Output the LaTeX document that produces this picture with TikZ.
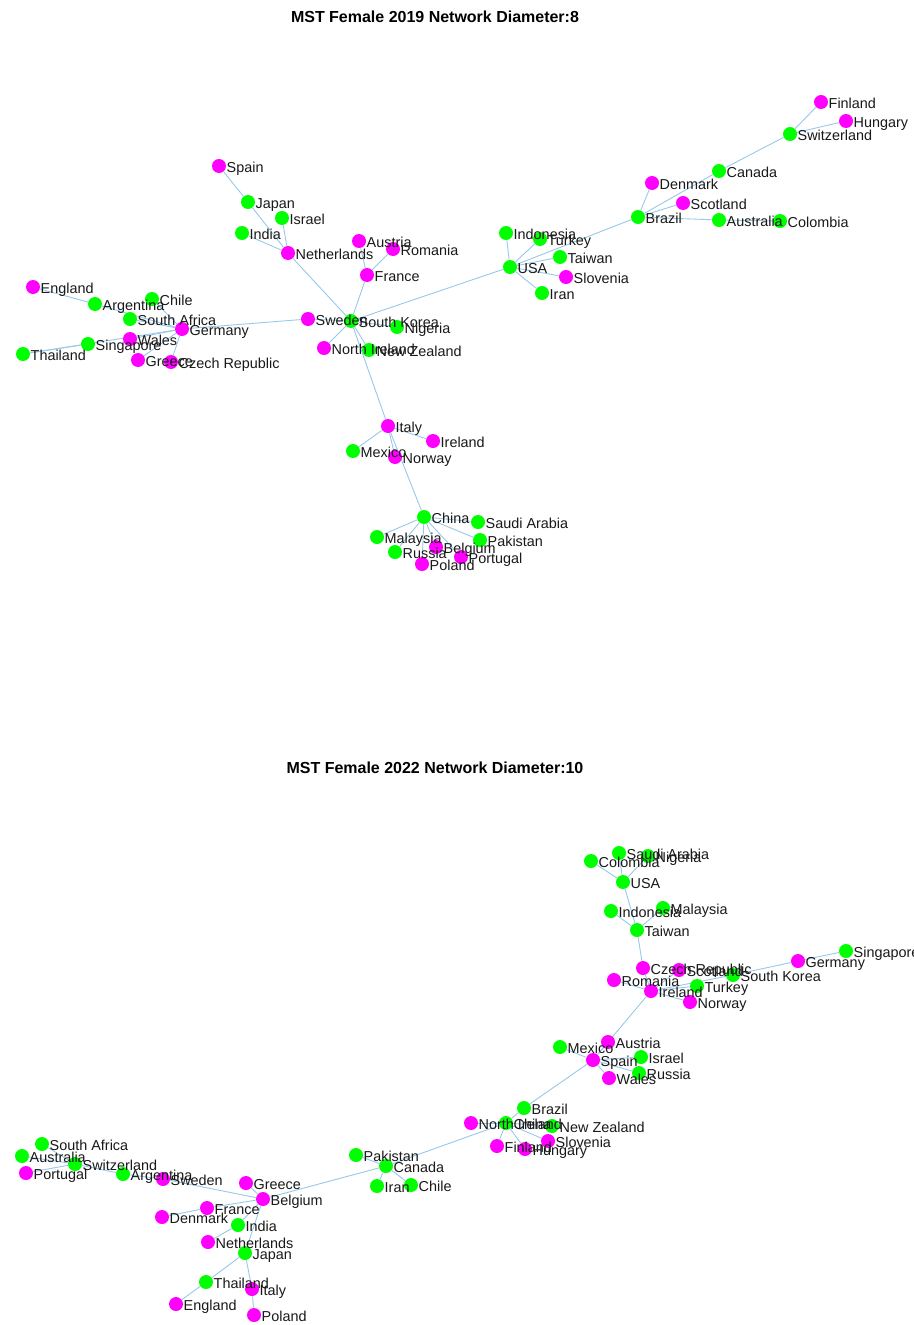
\documentclass[tikz,border=0pt]{standalone}
\usepackage{fontspec}
\setmainfont{Liberation Sans}
\usetikzlibrary{backgrounds}

\definecolor{nodegreen}{RGB}{0,255,0}
\definecolor{nodemag}{RGB}{255,0,255}
\definecolor{linkblue}{RGB}{150,200,235}

\tikzset{
    gnode/.style={circle, fill=nodegreen, inner sep=0pt, minimum size=0.28cm},
    mnode/.style={circle, fill=nodemag, inner sep=0pt, minimum size=0.28cm},
    lab/.style={anchor=west, font=\fontsize{8.2}{10}\selectfont, inner sep=0pt, text height=0.716em, text depth=0pt, text=black!90},
    link/.style={draw=linkblue, line width=0.5pt},
    plottitle/.style={font=\bfseries\fontsize{9.1}{11}\selectfont, inner sep=0pt}
}

\begin{document}
\begin{tikzpicture}[x=0.02cm, y=-0.02cm]
    \useasboundingbox (0,0) rectangle (913,1325);

    % Titles
    \node[plottitle] (title19) at (435,17) {MST Female 2019 Network Diameter:8};
    \node[plottitle] (title22) at (435,768) {MST Female 2022 Network Diameter:10};

    % Define nodes 2019
    \node[mnode] (spain19) at (219,166) {};
    \node[gnode] (japan19) at (248,202) {};
    \node[gnode] (israel19) at (282,218) {};
    \node[gnode] (india19) at (242,233) {};
    \node[mnode] (netherlands19) at (288,253) {};
    \node[mnode] (austria19) at (359,241) {};
    \node[mnode] (romania19) at (393,249) {};
    \node[mnode] (france19) at (367,275) {};
    \node[mnode] (england19) at (33,287) {};
    \node[gnode] (argentina19) at (95,304) {};
    \node[gnode] (chile19) at (152,299) {};
    \node[gnode] (southafrica19) at (130,319) {};
    \node[mnode] (germany19) at (182,329) {};
    \node[mnode] (wales19) at (130,339) {};
    \node[gnode] (singapore19) at (88,344) {};
    \node[gnode] (thailand19) at (23,354) {};
    \node[mnode] (greece19) at (138,360) {};
    \node[mnode] (czech19) at (171,362) {};
    \node[mnode] (sweden19) at (308,319) {};
    \node[gnode] (southkorea19) at (351,321) {};
    \node[gnode] (nigeria19) at (397,327) {};
    \node[mnode] (northireland19) at (324,348) {};
    \node[gnode] (newzealand19) at (369,350) {};
    \node[mnode] (italy19) at (388,426) {};
    \node[mnode] (ireland19) at (433,441) {};
    \node[gnode] (mexico19) at (353,451) {};
    \node[mnode] (norway19) at (395,457) {};
    \node[gnode] (china19) at (424,517) {};
    \node[gnode] (saudiarabia19) at (478,522) {};
    \node[gnode] (malaysia19) at (377,537) {};
    \node[gnode] (pakistan19) at (480,540) {};
    \node[mnode] (belgium19) at (436,547) {};
    \node[gnode] (russia19) at (395,552) {};
    \node[mnode] (portugal19) at (461,557) {};
    \node[mnode] (poland19) at (422,564) {};
    \node[gnode] (indonesia19) at (506,233) {};
    \node[gnode] (turkey19) at (540,239) {};
    \node[gnode] (taiwan19) at (560,257) {};
    \node[gnode] (usa19) at (510,267) {};
    \node[mnode] (slovenia19) at (566,277) {};
    \node[gnode] (iran19) at (542,293) {};
    \node[mnode] (denmark19) at (652,183) {};
    \node[mnode] (scotland19) at (683,203) {};
    \node[gnode] (brazil19) at (638,217) {};
    \node[gnode] (australia19) at (719,220) {};
    \node[gnode] (colombia19) at (780,221) {};
    \node[gnode] (canada19) at (719,171) {};
    \node[gnode] (switzerland19) at (790,134) {};
    \node[mnode] (finland19) at (821,102) {};
    \node[mnode] (hungary19) at (846,121) {};

    % Define nodes 2022
    \node[gnode] (colombia22) at (591,861) {};
    \node[gnode] (saudiarabia22) at (619,853) {};
    \node[gnode] (nigeria22) at (648,856) {};
    \node[gnode] (usa22) at (623,882) {};
    \node[gnode] (indonesia22) at (611,911) {};
    \node[gnode] (malaysia22) at (663,908) {};
    \node[gnode] (taiwan22) at (637,930) {};
    \node[gnode] (singapore22) at (846,951) {};
    \node[mnode] (germany22) at (798,961) {};
    \node[mnode] (czech22) at (643,968) {};
    \node[mnode] (scotland22) at (679,970) {};
    \node[gnode] (southkorea22) at (733,975) {};
    \node[mnode] (romania22) at (614,980) {};
    \node[gnode] (turkey22) at (697,986) {};
    \node[mnode] (ireland22) at (651,991) {};
    \node[mnode] (norway22) at (690,1002) {};
    \node[mnode] (austria22) at (608,1042) {};
    \node[gnode] (mexico22) at (560,1047) {};
    \node[mnode] (spain22) at (593,1060) {};
    \node[gnode] (israel22) at (641,1057) {};
    \node[mnode] (wales22) at (609,1078) {};
    \node[gnode] (russia22) at (639,1073) {};
    \node[gnode] (brazil22) at (524,1108) {};
    \node[mnode] (northireland22) at (471,1123) {};
    \node[gnode] (china22) at (506,1123) {};
    \node[gnode] (newzealand22) at (552,1126) {};
    \node[mnode] (slovenia22) at (548,1141) {};
    \node[mnode] (finland22) at (497,1146) {};
    \node[mnode] (hungary22) at (525,1149) {};
    \node[gnode] (pakistan22) at (356,1155) {};
    \node[gnode] (canada22) at (386,1166) {};
    \node[gnode] (iran22) at (377,1186) {};
    \node[gnode] (chile22) at (411,1185) {};
    \node[gnode] (southafrica22) at (42,1144) {};
    \node[gnode] (australia22) at (22,1156) {};
    \node[gnode] (switzerland22) at (75,1164) {};
    \node[mnode] (portugal22) at (26,1173) {};
    \node[gnode] (argentina22) at (123,1174) {};
    \node[mnode] (sweden22) at (163,1179) {};
    \node[mnode] (greece22) at (246,1183) {};
    \node[mnode] (belgium22) at (263,1199) {};
    \node[mnode] (france22) at (207,1208) {};
    \node[mnode] (denmark22) at (162,1217) {};
    \node[gnode] (india22) at (238,1225) {};
    \node[mnode] (netherlands22) at (208,1242) {};
    \node[gnode] (japan22) at (245,1253) {};
    \node[gnode] (thailand22) at (206,1282) {};
    \node[mnode] (italy22) at (252,1289) {};
    \node[mnode] (england22) at (176,1304) {};
    \node[mnode] (poland22) at (254,1315) {};

    % Add labels right of the nodes 2019
    \node[lab] (spain19l) at (spain19.east) {Spain};
    \node[lab] (japan19l) at (japan19.east) {Japan};
    \node[lab] (israel19l) at (israel19.east) {Israel};
    \node[lab] (india19l) at (india19.east) {India};
    \node[lab] (netherlands19l) at (netherlands19.east) {Netherlands};
    \node[lab] (austria19l) at (austria19.east) {Austria};
    \node[lab] (romania19l) at (romania19.east) {Romania};
    \node[lab] (france19l) at (france19.east) {France};
    \node[lab] (england19l) at (england19.east) {England};
    \node[lab] (argentina19l) at (argentina19.east) {Argentina};
    \node[lab] (chile19l) at (chile19.east) {Chile};
    \node[lab] (southafrica19l) at (southafrica19.east) {South Africa};
    \node[lab] (germany19l) at (germany19.east) {Germany};
    \node[lab] (wales19l) at (wales19.east) {Wales};
    \node[lab] (singapore19l) at (singapore19.east) {Singapore};
    \node[lab] (thailand19l) at (thailand19.east) {Thailand};
    \node[lab] (greece19l) at (greece19.east) {Greece};
    \node[lab] (czech19l) at (czech19.east) {Czech Republic};
    \node[lab] (sweden19l) at (sweden19.east) {Sweden};
    \node[lab] (southkorea19l) at (southkorea19.east) {South Korea};
    \node[lab] (nigeria19l) at (nigeria19.east) {Nigeria};
    \node[lab] (northireland19l) at (northireland19.east) {North Ireland};
    \node[lab] (newzealand19l) at (newzealand19.east) {New Zealand};
    \node[lab] (italy19l) at (italy19.east) {Italy};
    \node[lab] (ireland19l) at (ireland19.east) {Ireland};
    \node[lab] (mexico19l) at (mexico19.east) {Mexico};
    \node[lab] (norway19l) at (norway19.east) {Norway};
    \node[lab] (china19l) at (china19.east) {China};
    \node[lab] (saudiarabia19l) at (saudiarabia19.east) {Saudi Arabia};
    \node[lab] (malaysia19l) at (malaysia19.east) {Malaysia};
    \node[lab] (pakistan19l) at (pakistan19.east) {Pakistan};
    \node[lab] (belgium19l) at (belgium19.east) {Belgium};
    \node[lab] (russia19l) at (russia19.east) {Russia};
    \node[lab] (portugal19l) at (portugal19.east) {Portugal};
    \node[lab] (poland19l) at (poland19.east) {Poland};
    \node[lab] (indonesia19l) at (indonesia19.east) {Indonesia};
    \node[lab] (turkey19l) at (turkey19.east) {Turkey};
    \node[lab] (taiwan19l) at (taiwan19.east) {Taiwan};
    \node[lab] (usa19l) at (usa19.east) {USA};
    \node[lab] (slovenia19l) at (slovenia19.east) {Slovenia};
    \node[lab] (iran19l) at (iran19.east) {Iran};
    \node[lab] (denmark19l) at (denmark19.east) {Denmark};
    \node[lab] (scotland19l) at (scotland19.east) {Scotland};
    \node[lab] (brazil19l) at (brazil19.east) {Brazil};
    \node[lab] (australia19l) at (australia19.east) {Australia};
    \node[lab] (colombia19l) at (colombia19.east) {Colombia};
    \node[lab] (canada19l) at (canada19.east) {Canada};
    \node[lab] (switzerland19l) at (switzerland19.east) {Switzerland};
    \node[lab] (finland19l) at (finland19.east) {Finland};
    \node[lab] (hungary19l) at (hungary19.east) {Hungary};

    % Add labels right of the nodes 2022
    \node[lab] (colombia22l) at (colombia22.east) {Colombia};
    \node[lab] (saudiarabia22l) at (saudiarabia22.east) {Saudi Arabia};
    \node[lab] (nigeria22l) at (nigeria22.east) {Nigeria};
    \node[lab] (usa22l) at (usa22.east) {USA};
    \node[lab] (indonesia22l) at (indonesia22.east) {Indonesia};
    \node[lab] (malaysia22l) at (malaysia22.east) {Malaysia};
    \node[lab] (taiwan22l) at (taiwan22.east) {Taiwan};
    \node[lab] (singapore22l) at (singapore22.east) {Singapore};
    \node[lab] (germany22l) at (germany22.east) {Germany};
    \node[lab] (czech22l) at (czech22.east) {Czech Republic};
    \node[lab] (scotland22l) at (scotland22.east) {Scotland};
    \node[lab] (southkorea22l) at (southkorea22.east) {South Korea};
    \node[lab] (romania22l) at (romania22.east) {Romania};
    \node[lab] (turkey22l) at (turkey22.east) {Turkey};
    \node[lab] (ireland22l) at (ireland22.east) {Ireland};
    \node[lab] (norway22l) at (norway22.east) {Norway};
    \node[lab] (austria22l) at (austria22.east) {Austria};
    \node[lab] (mexico22l) at (mexico22.east) {Mexico};
    \node[lab] (spain22l) at (spain22.east) {Spain};
    \node[lab] (israel22l) at (israel22.east) {Israel};
    \node[lab] (wales22l) at (wales22.east) {Wales};
    \node[lab] (russia22l) at (russia22.east) {Russia};
    \node[lab] (brazil22l) at (brazil22.east) {Brazil};
    \node[lab] (northireland22l) at (northireland22.east) {North Ireland};
    \node[lab] (china22l) at (china22.east) {China};
    \node[lab] (newzealand22l) at (newzealand22.east) {New Zealand};
    \node[lab] (slovenia22l) at (slovenia22.east) {Slovenia};
    \node[lab] (finland22l) at (finland22.east) {Finland};
    \node[lab] (hungary22l) at (hungary22.east) {Hungary};
    \node[lab] (pakistan22l) at (pakistan22.east) {Pakistan};
    \node[lab] (canada22l) at (canada22.east) {Canada};
    \node[lab] (iran22l) at (iran22.east) {Iran};
    \node[lab] (chile22l) at (chile22.east) {Chile};
    \node[lab] (southafrica22l) at (southafrica22.east) {South Africa};
    \node[lab] (australia22l) at (australia22.east) {Australia};
    \node[lab] (switzerland22l) at (switzerland22.east) {Switzerland};
    \node[lab] (portugal22l) at (portugal22.east) {Portugal};
    \node[lab] (argentina22l) at (argentina22.east) {Argentina};
    \node[lab] (sweden22l) at (sweden22.east) {Sweden};
    \node[lab] (greece22l) at (greece22.east) {Greece};
    \node[lab] (belgium22l) at (belgium22.east) {Belgium};
    \node[lab] (france22l) at (france22.east) {France};
    \node[lab] (denmark22l) at (denmark22.east) {Denmark};
    \node[lab] (india22l) at (india22.east) {India};
    \node[lab] (netherlands22l) at (netherlands22.east) {Netherlands};
    \node[lab] (japan22l) at (japan22.east) {Japan};
    \node[lab] (thailand22l) at (thailand22.east) {Thailand};
    \node[lab] (italy22l) at (italy22.east) {Italy};
    \node[lab] (england22l) at (england22.east) {England};
    \node[lab] (poland22l) at (poland22.east) {Poland};

    % Draw edges behind the nodes
    \begin{scope}[on background layer]
        \fill[white] (0,0) rectangle (913,1325);
        % 2019
        \draw[link] (spain19) -- (japan19);
        \draw[link] (japan19) -- (netherlands19);
        \draw[link] (israel19) -- (netherlands19);
        \draw[link] (india19) -- (netherlands19);
        \draw[link] (netherlands19) -- (southkorea19);
        \draw[link] (austria19) -- (france19);
        \draw[link] (romania19) -- (france19);
        \draw[link] (france19) -- (southkorea19);
        \draw[link] (sweden19) -- (southkorea19);
        \draw[link] (southkorea19) -- (nigeria19);
        \draw[link] (southkorea19) -- (northireland19);
        \draw[link] (southkorea19) -- (newzealand19);
        \draw[link] (southkorea19) -- (usa19);
        \draw[link] (southkorea19) -- (italy19);
        \draw[link] (germany19) -- (sweden19);
        \draw[link] (germany19) -- (chile19);
        \draw[link] (germany19) -- (southafrica19);
        \draw[link] (germany19) -- (argentina19);
        \draw[link] (england19) -- (argentina19);
        \draw[link] (germany19) -- (wales19);
        \draw[link] (thailand19) -- (singapore19);
        \draw[link] (thailand19) -- (germany19);
        \draw[link] (germany19) -- (greece19);
        \draw[link] (germany19) -- (czech19);
        \draw[link] (italy19) -- (mexico19);
        \draw[link] (italy19) -- (ireland19);
        \draw[link] (italy19) -- (norway19);
        \draw[link] (italy19) -- (china19);
        \draw[link] (china19) -- (saudiarabia19);
        \draw[link] (china19) -- (malaysia19);
        \draw[link] (china19) -- (pakistan19);
        \draw[link] (china19) -- (belgium19);
        \draw[link] (china19) -- (russia19);
        \draw[link] (china19) -- (portugal19);
        \draw[link] (china19) -- (poland19);
        \draw[link] (usa19) -- (indonesia19);
        \draw[link] (usa19) -- (turkey19);
        \draw[link] (usa19) -- (taiwan19);
        \draw[link] (usa19) -- (slovenia19);
        \draw[link] (usa19) -- (iran19);
        \draw[link] (usa19) -- (brazil19);
        \draw[link] (brazil19) -- (denmark19);
        \draw[link] (brazil19) -- (scotland19);
        \draw[link] (brazil19) -- (canada19);
        \draw[link] (brazil19) -- (australia19);
        \draw[link] (australia19) -- (colombia19);
        \draw[link] (canada19) -- (switzerland19);
        \draw[link] (switzerland19) -- (finland19);
        \draw[link] (switzerland19) -- (hungary19);
        % 2022
        \draw[link] (usa22) -- (saudiarabia22);
        \draw[link] (usa22) -- (nigeria22);
        \draw[link] (usa22) -- (colombia22);
        \draw[link] (usa22) -- (taiwan22);
        \draw[link] (taiwan22) -- (indonesia22);
        \draw[link] (taiwan22) -- (malaysia22);
        \draw[link] (taiwan22) -- (czech22);
        \draw[link] (czech22) -- (ireland22);
        \draw[link] (ireland22) -- (romania22);
        \draw[link] (ireland22) -- (scotland22);
        \draw[link] (ireland22) -- (turkey22);
        \draw[link] (ireland22) -- (norway22);
        \draw[link] (ireland22) -- (southkorea22);
        \draw[link] (southkorea22) -- (germany22);
        \draw[link] (germany22) -- (singapore22);
        \draw[link] (ireland22) -- (spain22);
        \draw[link] (spain22) -- (austria22);
        \draw[link] (spain22) -- (mexico22);
        \draw[link] (spain22) -- (israel22);
        \draw[link] (spain22) -- (russia22);
        \draw[link] (spain22) -- (wales22);
        \draw[link] (spain22) -- (brazil22);
        \draw[link] (brazil22) -- (china22);
        \draw[link] (china22) -- (northireland22);
        \draw[link] (china22) -- (newzealand22);
        \draw[link] (china22) -- (slovenia22);
        \draw[link] (china22) -- (finland22);
        \draw[link] (china22) -- (hungary22);
        \draw[link] (china22) -- (canada22);
        \draw[link] (canada22) -- (pakistan22);
        \draw[link] (canada22) -- (iran22);
        \draw[link] (canada22) -- (chile22);
        \draw[link] (canada22) -- (belgium22);
        \draw[link] (belgium22) -- (greece22);
        \draw[link] (belgium22) -- (sweden22);
        \draw[link] (belgium22) -- (france22);
        \draw[link] (belgium22) -- (japan22);
        \draw[link] (belgium22) -- (india22);
        \draw[link] (india22) -- (netherlands22);
        \draw[link] (sweden22) -- (argentina22);
        \draw[link] (argentina22) -- (switzerland22);
        \draw[link] (switzerland22) -- (southafrica22);
        \draw[link] (switzerland22) -- (australia22);
        \draw[link] (switzerland22) -- (portugal22);
        \draw[link] (france22) -- (denmark22);
        \draw[link] (japan22) -- (thailand22);
        \draw[link] (thailand22) -- (england22);
        \draw[link] (japan22) -- (italy22);
        \draw[link] (italy22) -- (poland22);
    \end{scope}
\end{tikzpicture}
\end{document}
